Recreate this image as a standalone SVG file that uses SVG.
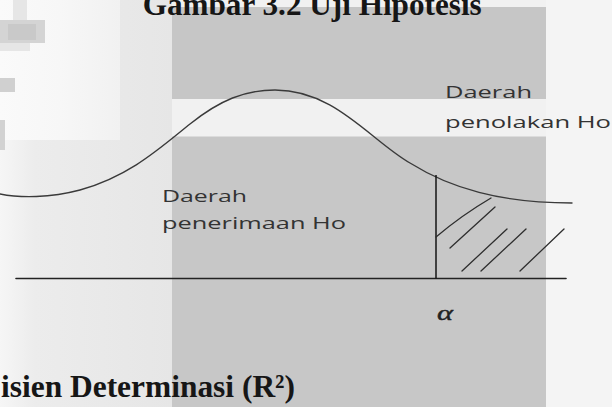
<svg xmlns="http://www.w3.org/2000/svg" width="612" height="407" viewBox="0 0 612 407">
<style>
.lbl{font-family:"Open Sans","Noto Sans","DejaVu Sans",sans-serif;font-size:16.5px;fill:#333}
.doc{font-family:"Liberation Serif","Times New Roman",serif;font-weight:bold;font-size:31.5px;fill:#161616}
.ln{fill:none;stroke-linecap:round}
</style>
<defs>
<linearGradient id="leftg" x1="0" y1="0" x2="1" y2="0">
<stop offset="0" stop-color="#f6f6f6"/>
<stop offset="0.2" stop-color="#ececec"/>
<stop offset="1" stop-color="#e6e6e6"/>
</linearGradient>
<linearGradient id="topg" x1="0" y1="0" x2="1" y2="0">
<stop offset="0" stop-color="#fafafa"/>
<stop offset="0.5" stop-color="#f7f7f7"/>
<stop offset="1" stop-color="#f1f1f1"/>
</linearGradient>
</defs>
<g id="background">
<rect x="0" y="0" width="612" height="407" fill="#f1f1f1"/>
<rect x="0" y="0" width="172" height="407" fill="url(#leftg)"/>
<rect x="0" y="0" width="120" height="140" fill="url(#topg)"/>
<rect x="546" y="0" width="66" height="407" fill="#f4f4f4"/>
<rect x="13" y="0" width="14" height="20" fill="#e6e6e6"/>
<rect x="0" y="20" width="45" height="23" fill="#d4d4d4"/>
<rect x="8" y="24" width="28" height="16" fill="#c9c9c9"/>
<rect x="0" y="43" width="30" height="8" fill="#e6e6e6"/>
<rect x="0" y="78" width="15" height="14" fill="#d0d0d0"/>
<rect x="0" y="120" width="5" height="30" fill="#d2d2d2"/>
<rect x="172" y="7" width="374" height="92" fill="#c6c6c6"/>
<rect x="172" y="136.5" width="374" height="270.5" fill="#c7c7c7"/>
</g>
<g id="title">
<text class="doc" x="142.7" y="14.5" textLength="339" lengthAdjust="spacingAndGlyphs">Gambar 3.2 Uji Hipotesis</text>
</g>
<g id="curve">
<path class="ln" stroke="#3a3a3a" stroke-width="1.4" d="M0,194 C20,198 50,198 80,190 C130,176 160,148 190,124 C220,100 245,90 275,90 C335,90 370,140 410,163 C450,188 500,203 572,203"/>
</g>
<g id="connectors">
<line class="ln" x1="16" y1="278.5" x2="566" y2="278.5" stroke="#222" stroke-width="1.6"/>
<line x1="436" y1="175" x2="436" y2="278.5" stroke="#151515" stroke-width="1.5"/>
</g>
<g id="hatch" stroke="#2e2e2e" stroke-width="1.3" class="ln">
<path d="M436,237 Q462,215 491,198"/>
<line x1="450" y1="248" x2="495" y2="207"/>
<line x1="462" y1="271" x2="507" y2="229"/>
<line x1="481" y1="271" x2="526" y2="229"/>
<line x1="520" y1="271" x2="564" y2="229"/>
</g>
<g id="label-penolakan">
<text class="lbl" x="445" y="98.3" textLength="87" lengthAdjust="spacingAndGlyphs">Daerah</text>
<text class="lbl" x="445" y="128.3" textLength="166" lengthAdjust="spacingAndGlyphs">penolakan Ho</text>
</g>
<g id="label-penerimaan">
<text class="lbl" x="162" y="202.3" textLength="85" lengthAdjust="spacingAndGlyphs">Daerah</text>
<text class="lbl" x="162" y="229" textLength="184" lengthAdjust="spacingAndGlyphs">penerimaan Ho</text>
</g>
<g id="alpha">
<text x="437" y="319.5" font-family="Liberation Serif, serif" font-style="italic" font-size="22" fill="#222" stroke="#222" stroke-width="0.4" textLength="16" lengthAdjust="spacingAndGlyphs">α</text>
</g>
<g id="heading">
<text class="doc" x="1" y="396.7" textLength="294" lengthAdjust="spacingAndGlyphs">isien Determinasi (R²)</text>
</g>
</svg>
